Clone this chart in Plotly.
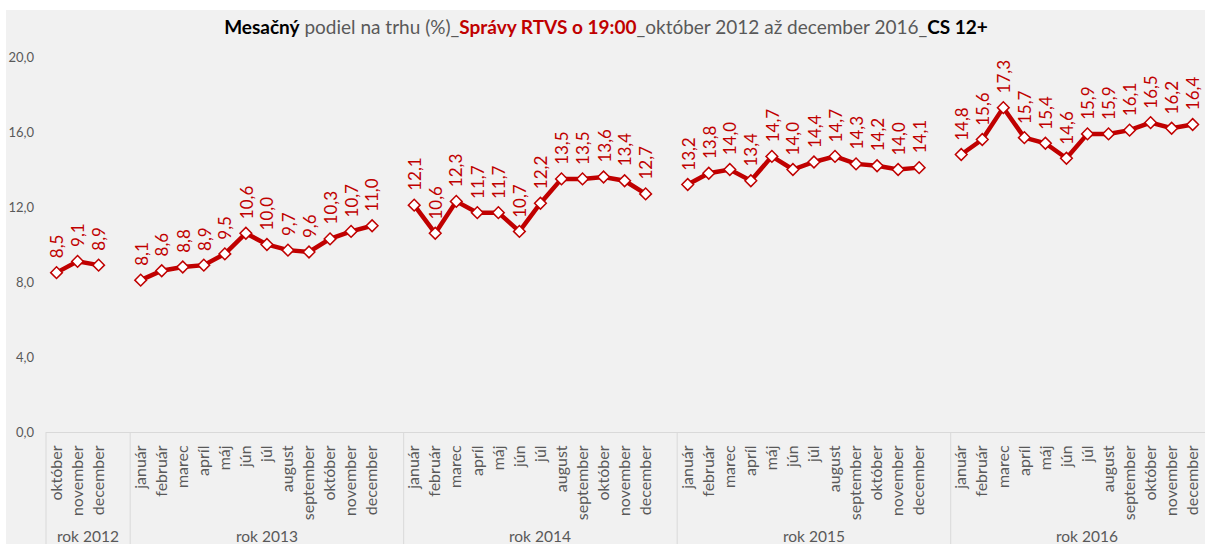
import plotly.graph_objects as go

# ---- data ----
years = ["rok 2012", "rok 2013", "rok 2014", "rok 2015", "rok 2016"]
months_2012 = ["október", "november", "december"]
months_full = ["január", "február", "marec", "apríl", "máj", "jún", "júl",
               "august", "september", "október", "november", "december"]
share_2012 = [8.5, 9.1, 8.9]
share_2013 = [8.1, 8.6, 8.8, 8.9, 9.5, 10.6, 10.0, 9.7, 9.6, 10.3, 10.7, 11.0]
share_2014 = [12.1, 10.6, 12.3, 11.7, 11.7, 10.7, 12.2, 13.5, 13.5, 13.6, 13.4, 12.7]
share_2015 = [13.2, 13.8, 14.0, 13.4, 14.7, 14.0, 14.4, 14.7, 14.3, 14.2, 14.0, 14.1]
share_2016 = [14.8, 15.6, 17.3, 15.7, 15.4, 14.6, 15.9, 15.9, 16.1, 16.5, 16.2, 16.4]
y_ticks = [0, 4, 8, 12, 16, 20]

groups = [
    (years[0], months_2012, share_2012),
    (years[1], months_full, share_2013),
    (years[2], months_full, share_2014),
    (years[3], months_full, share_2015),
    (years[4], months_full, share_2016),
]

RED = "#c00000"
GRAY = "#595959"
BG = "#f1f1f1"
FONT = "Lato"

W, H = 1205, 544
ML, MR, MT, MB = 46, 0, 57, 112
PW, PH = W - ML - MR, H - MT - MB
CAT_W = 21.04
x_min = -0.5
x_max = x_min + PW / CAT_W

fig = go.Figure()
annotations = []
shapes = []
tickvals, ticktext = [], []

idx = 0
boundaries = [-0.5]
for yname, months, vals in groups:
    xs = list(range(idx, idx + len(months)))
    fig.add_trace(go.Scatter(
        x=xs, y=vals, mode="lines+markers",
        line=dict(color=RED, width=4.5),
        marker=dict(symbol="diamond", size=9, color="white",
                    line=dict(color=RED, width=1.5)),
        showlegend=False, hoverinfo="skip"))
    for xv, m, v in zip(xs, months, vals):
        tickvals.append(xv)
        ticktext.append(m)
        annotations.append(dict(
            x=xv, y=v, xref="x", yref="y", text=f"{v:.1f}".replace(".", ","),
            textangle=-90, showarrow=False, xanchor="center", yanchor="bottom",
            yshift=12, font=dict(family=FONT, size=17, color=RED)))
    start = idx
    idx += len(months) + 1  # one blank category after each year
    boundaries.append(idx - 0.5)
    annotations.append(dict(
        x=(start - 0.5 + idx - 0.5) / 2, y=(432 - 536) / PH, xref="x", yref="paper",
        text=yname, showarrow=False, xanchor="center", yanchor="middle",
        font=dict(family=FONT, size=15.5, color=GRAY)))

sep_bottom = (432 - H) / PH
for b in boundaries:
    if b <= x_max:
        xp = (b - x_min) / (x_max - x_min)
        shapes.append(dict(type="line", xref="paper", yref="paper",
                           x0=xp, x1=xp, y0=0, y1=sep_bottom,
                           line=dict(color="#d9d9d9", width=1)))

# white outer strips (top and left)
shapes.append(dict(type="rect", xref="paper", yref="paper",
                   x0=-ML / PW - 0.01, x1=(6 - ML) / PW, y0=sep_bottom - 0.1, y1=432 / PH + 0.1,
                   fillcolor="white", line=dict(width=0), layer="above"))
shapes.append(dict(type="rect", xref="paper", yref="paper",
                   x0=-ML / PW - 0.01, x1=1.01, y0=(432 - 10) / PH, y1=432 / PH + 0.1,
                   fillcolor="white", line=dict(width=0), layer="above"))

title_text = ("<span style='color:black'><b>Mesačný</b></span> podiel na trhu (%)_"
              "<span style='color:#c00000'><b>Správy RTVS o 19:00</b></span>"
              "_október 2012 až december 2016_"
              "<span style='color:black'><b>CS 12+</b></span>")

fig.update_layout(
    width=W, height=H,
    margin=dict(l=ML, r=MR, t=MT, b=MB),
    paper_bgcolor=BG, plot_bgcolor=BG,
    separators=", ",
    title=dict(text=title_text, x=(606 - ML) / PW, xref="paper", xanchor="center",
               y=1 - 27 / H, yref="container", yanchor="middle",
               font=dict(family=FONT, size=19, color=GRAY)),
    xaxis=dict(range=[x_min, x_max], tickvals=tickvals, ticktext=ticktext,
               tickangle=-90, showgrid=False, zeroline=False,
               showline=True, linecolor="#d9d9d9", linewidth=1,
               ticks="", ticklabelstandoff=6,
               tickfont=dict(family=FONT, size=16, color=GRAY)),
    yaxis=dict(range=[0, 20], tickvals=y_ticks, tickformat=".1f",
               showgrid=False, zeroline=False, showline=False,
               ticks="", ticklabelstandoff=11,
               tickfont=dict(family=FONT, size=13, color=GRAY)),
    annotations=annotations,
    shapes=shapes,
    font=dict(family=FONT),
)

fig.write_html(
    "out.html",
    config={"displayModeBar": False},
    post_script="document.body.style.margin='0';document.body.style.padding='0';"
                "document.body.style.overflow='hidden';"
                "document.documentElement.style.overflow='hidden';",
)
